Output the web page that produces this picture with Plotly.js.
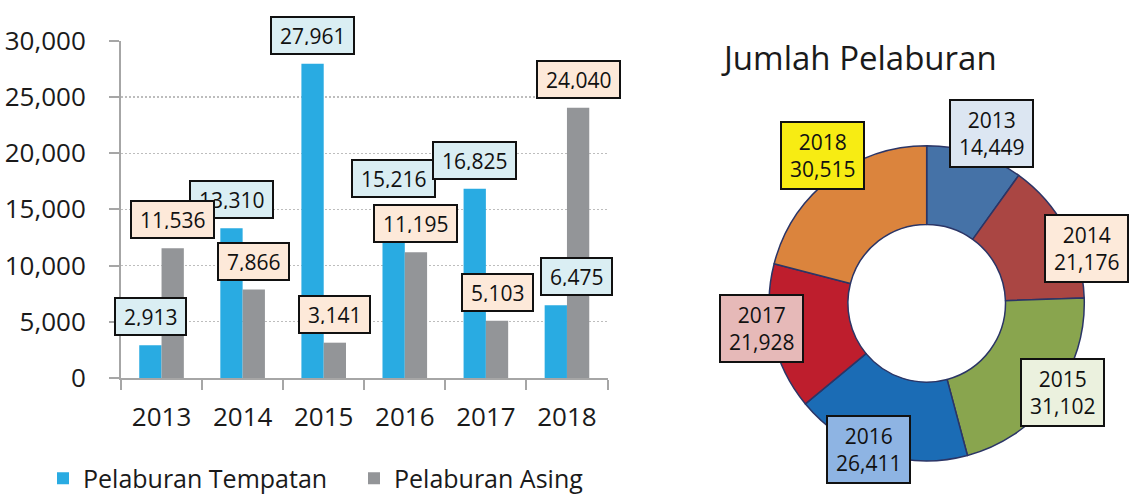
<!DOCTYPE html>
<html>
<head>
<meta charset="utf-8">
<script src="https://cdn.plot.ly/plotly-3.0.1.min.js"></script>
<style>
  html, body { margin: 0; padding: 0; background: #fff; }
  #chart { width: 1131px; height: 495px; }
</style>
</head>
<body>
<div id="chart"></div>
<script>
// ---- data ----
const years = ['2013', '2014', '2015', '2016', '2017', '2018'];
const tempatan = [2913, 13310, 27961, 15216, 16825, 6475];
const asing = [11536, 7866, 3141, 11195, 5103, 24040];
const jumlah = [14449, 21176, 31102, 26411, 21928, 30515];
const seriesNames = ['Pelaburan Tempatan', 'Pelaburan Asing'];
const chartTitle = 'Jumlah Pelaburan';

// ---- styles ----
const W = 1131, H = 495;
const FONT = '"Open Sans", "Noto Sans", sans-serif';
const blue = '#29ABE2', gray = '#939598';
const axisGray = '#A6A6A6';
const pieColors = ['#4572A7', '#AA4643', '#89A54E', '#1B6CB5', '#BE1E2D', '#DB843D'];
const pieBoxFill = ['#DCE6F2', '#FDEADA', '#EBF1DE', '#8EB4E3', '#E6B9B8', '#F7EC13'];
const bargap = 0.45;
const barOff = (1 - bargap) / 4;
// per-label pixel nudges (style only)
const tempShiftX = [0, 0, 0, 0, 0, 21];
const pieShift = [[16, 20], [21, -19], [9, 5], [-10, 4], [-11, 9], [-8, 23]];

const fmt = v => v.toLocaleString('en-US');

const traces = [
  { type: 'bar', name: seriesNames[0], x: years, y: tempatan,
    marker: { color: blue, line: { width: 0 } }, xaxis: 'x', yaxis: 'y', hoverinfo: 'x+y' },
  { type: 'bar', name: seriesNames[1], x: years, y: asing,
    marker: { color: gray, line: { width: 0 } }, xaxis: 'x', yaxis: 'y', hoverinfo: 'x+y' },
];

const pieDom = { x: [0.6800, 0.9587], y: [0.0689, 0.7057] };
traces.push({
  type: 'pie', labels: years, values: jumlah, hole: 0.5, sort: false,
  direction: 'clockwise', rotation: 0, textinfo: 'none', showlegend: false,
  marker: { colors: pieColors, line: { color: '#2B3566', width: 1.5 } },
  domain: pieDom
});

const annotations = [];
const barBox = (txt, x, y, fill, xs) => ({
  xref: 'x', yref: 'y', x: x, y: y, text: txt, showarrow: false,
  xanchor: 'center', yanchor: 'middle', yshift: 28.5, xshift: xs || 0,
  font: { family: FONT, size: 21, color: '#111' },
  bgcolor: fill, bordercolor: '#111', borderwidth: 2, borderpad: 8, height: 19
});
years.forEach((yr, i) => {
  annotations.push(barBox(fmt(tempatan[i]), i - barOff, tempatan[i], '#DAEEF3', tempShiftX[i]));
});
years.forEach((yr, i) => {
  annotations.push(barBox(fmt(asing[i]), i + barOff, asing[i], '#FDE9D9'));
});

// pie labels placed at each slice's mid-angle on the outer edge
const total = jumlah.reduce((a, b) => a + b, 0);
const cx = (pieDom.x[0] + pieDom.x[1]) / 2 * W;
const cyPaper = (pieDom.y[0] + pieDom.y[1]) / 2 * H;
const R = Math.min((pieDom.x[1] - pieDom.x[0]) * W, (pieDom.y[1] - pieDom.y[0]) * H) / 2;
let cum = 0;
jumlah.forEach((v, i) => {
  const mid = (cum + v / 2) / total * 2 * Math.PI;
  cum += v;
  const px = cx + R * Math.sin(mid);
  const py = cyPaper + R * Math.cos(mid);
  annotations.push({
    xref: 'paper', yref: 'paper', x: px / W, y: py / H,
    xshift: pieShift[i][0], yshift: pieShift[i][1],
    text: years[i] + '<br>' + fmt(v), showarrow: false,
    xanchor: 'center', yanchor: 'middle', align: 'center',
    font: { family: FONT, size: 21, color: '#111' },
    bgcolor: pieBoxFill[i], bordercolor: '#111', borderwidth: 2, borderpad: 8, height: 49
  });
});

const layout = {
  width: W, height: H,
  margin: { l: 0, r: 0, t: 0, b: 0, autoexpand: false },
  paper_bgcolor: '#fff', plot_bgcolor: '#fff',
  font: { family: FONT, color: '#1a1a1a' },
  title: { text: chartTitle, font: { family: FONT, size: 33, color: '#1a1a1a' },
           x: 724 / W, xanchor: 'left', xref: 'paper', y: 1 - 58 / H, yanchor: 'middle', yref: 'paper' },
  barmode: 'group', bargap: bargap, bargroupgap: 0,
  xaxis: {
    domain: [121 / W, 607.5 / W], type: 'category', range: [-0.5, 5.5], automargin: false,
    tickson: 'boundaries', ticks: 'outside', ticklen: 10, tickwidth: 2, tickcolor: axisGray,
    showline: true, linecolor: axisGray, linewidth: 2, showgrid: false,
    tickfont: { family: FONT, size: 26, color: '#1a1a1a' }, ticklabelstandoff: 15, fixedrange: true
  },
  yaxis: {
    domain: [117 / H, 454.3 / H], range: [0, 30000], dtick: 5000, tickformat: ',d', automargin: false,
    ticks: 'outside', ticklen: 10, tickwidth: 2, tickcolor: axisGray,
    showline: true, linecolor: axisGray, linewidth: 2,
    showgrid: true, gridcolor: '#BDBDBD', griddash: '2px,2px', gridwidth: 1.2, zeroline: false,
    tickfont: { family: FONT, size: 26, color: '#1a1a1a' }, ticklabelstandoff: 18, fixedrange: true
  },
  showlegend: true,
  legend: {
    orientation: 'h', x: 43 / W, xanchor: 'left', y: 16.5 / H, yanchor: 'middle',
    font: { family: FONT, size: 25, color: '#1a1a1a' }, bgcolor: 'rgba(0,0,0,0)',
    traceorder: 'normal', entrywidth: 266, entrywidthmode: 'pixels'
  },
  annotations: annotations
};

Plotly.newPlot('chart', traces, layout, { displayModeBar: false, staticPlot: true });
</script>
</body>
</html>
